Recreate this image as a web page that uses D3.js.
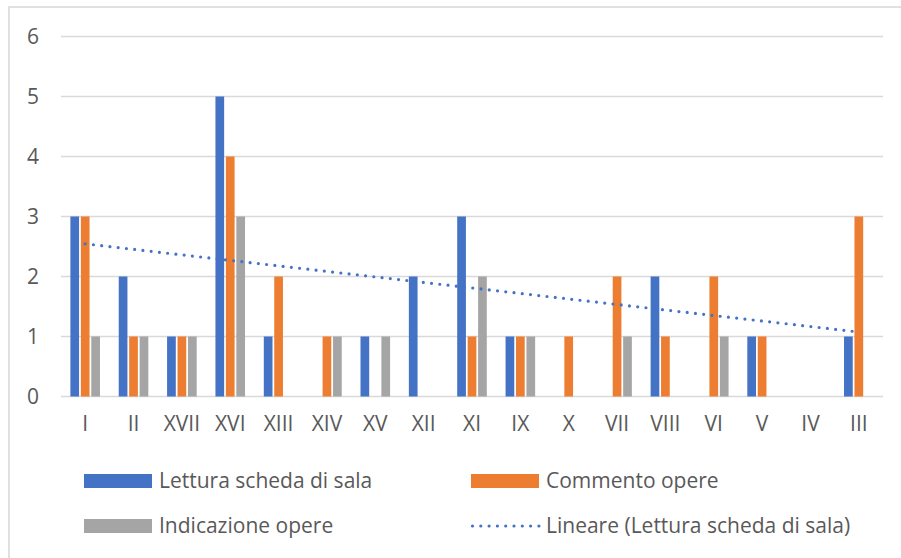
<!DOCTYPE html>
<html>
<head>
<meta charset="utf-8">
<script src="https://cdn.jsdelivr.net/npm/d3@7"></script>
<style>
  html, body { margin: 0; padding: 0; background: #fff; }
  svg text { font-family: "Open Sans", "Noto Sans", sans-serif; fill: #595959; }
</style>
</head>
<body>
<div id="chart"></div>
<script>
const categories = ["I", "II", "XVII", "XVI", "XIII", "XIV", "XV", "XII", "XI", "IX", "X", "VII", "VIII", "VI", "V", "IV", "III"];
// null = empty cell (not plotted, skipped by the trendline)
const lettura = [3, 2, 1, 5, 1, null, 1, 2, 3, 1, null, null, 2, null, 1, null, 1];
const commento = [3, 1, 1, 4, 2, 1, null, null, 1, 1, 1, 2, 1, 2, 1, null, 3];
const indicazione = [1, 1, 1, 3, null, 1, 1, null, 2, 1, null, 1, null, 1, null, null, null];
const seriesNames = ["Lettura scheda di sala", "Commento opere", "Indicazione opere"];
const trendName = "Lineare (Lettura scheda di sala)";
const yTicks = [0, 1, 2, 3, 4, 5, 6];

const colors = ["#4472C4", "#ED7D31", "#A5A5A5"];
const seriesValues = [lettura, commento, indicazione];

const width = 901, height = 558;
const svg = d3.select("#chart").append("svg")
    .attr("width", width)
    .attr("height", height);

// chart area border (top / left visible)
svg.append("path")
    .attr("d", "M9,560 V7 H905")
    .attr("fill", "none")
    .attr("stroke", "#e0e0e0")
    .attr("stroke-width", 2);

const x0 = d3.scaleBand()
    .domain(categories)
    .range([61, 883])
    .paddingInner(0.388)
    .paddingOuter(0.194);

const x1 = d3.scaleBand()
    .domain(seriesNames)
    .range([0, x0.bandwidth()])
    .paddingInner(1 / 6);

const y = d3.scaleLinear()
    .domain([0, 6])
    .range([396.5, 36.5]);

// gridlines
svg.append("g")
    .selectAll("line")
    .data(yTicks)
    .join("line")
    .attr("x1", 61)
    .attr("x2", 883)
    .attr("y1", d => y(d))
    .attr("y2", d => y(d))
    .attr("stroke", "#d9d9d9")
    .attr("stroke-width", 1.5);

// y axis labels
const yAxis = svg.append("g")
    .attr("transform", "translate(39,0)")
    .call(d3.axisLeft(y).tickValues(yTicks).tickFormat(d3.format("d")).tickSize(0).tickPadding(0));
yAxis.select(".domain").remove();
yAxis.selectAll("text")
    .attr("font-size", 21)
    .attr("font-family", "'Open Sans', sans-serif")
    .attr("fill", "#595959");

// x axis labels
const xAxis = svg.append("g")
    .attr("transform", "translate(0,416)")
    .call(d3.axisBottom(x0).tickSize(0).tickPadding(0));
xAxis.select(".domain").remove();
xAxis.selectAll("text")
    .attr("font-size", 21)
    .attr("font-family", "'Open Sans', sans-serif")
    .attr("fill", "#595959");

// bars
const rows = [];
categories.forEach((c, i) => {
    seriesNames.forEach((s, j) => {
        const v = seriesValues[j][i];
        if (v != null) rows.push({ cat: c, series: s, value: v, color: colors[j] });
    });
});

svg.append("g")
    .selectAll("rect")
    .data(rows)
    .join("rect")
    .attr("x", d => x0(d.cat) + x1(d.series))
    .attr("y", d => y(d.value))
    .attr("width", x1.bandwidth())
    .attr("height", d => y(0) - y(d.value))
    .attr("fill", d => d.color);

// linear trendline of lettura (empty cells skipped, x = 1..n)
const pts = lettura.map((v, i) => ({ x: i + 1, y: v })).filter(d => d.y != null);
const mx = d3.mean(pts, d => d.x), my = d3.mean(pts, d => d.y);
const slope = d3.sum(pts, d => (d.x - mx) * (d.y - my)) / d3.sum(pts, d => (d.x - mx) ** 2);
const intercept = my - slope * mx;
const trend = [1, categories.length].map(k => ({ cat: categories[k - 1], value: intercept + slope * k }));

const centerX = c => x0(c) + x0.bandwidth() / 2;
svg.append("path")
    .datum(trend)
    .attr("fill", "none")
    .attr("stroke", "#4472C4")
    .attr("stroke-width", 3.2)
    .attr("stroke-linecap", "round")
    .attr("stroke-dasharray", "0,8.3")
    .attr("d", d3.line().x(d => centerX(d.cat)).y(d => y(d.value)));

// legend
const legend = [
    { name: seriesNames[0], type: "rect", color: colors[0], x: 84, y: 481 },
    { name: seriesNames[1], type: "rect", color: colors[1], x: 471, y: 481 },
    { name: seriesNames[2], type: "rect", color: colors[2], x: 84, y: 526 },
    { name: trendName, type: "line", color: colors[0], x: 471, y: 526 }
];

const lg = svg.append("g").selectAll("g")
    .data(legend)
    .join("g")
    .attr("transform", d => `translate(${d.x},${d.y})`);

lg.filter(d => d.type === "rect").append("rect")
    .attr("x", 0)
    .attr("y", -7)
    .attr("width", 68)
    .attr("height", 14)
    .attr("fill", d => d.color);

lg.filter(d => d.type === "line").append("line")
    .attr("x1", 1.5)
    .attr("x2", 68)
    .attr("y1", 0)
    .attr("y2", 0)
    .attr("stroke", d => d.color)
    .attr("stroke-width", 3.2)
    .attr("stroke-linecap", "round")
    .attr("stroke-dasharray", "0,8.3");

lg.append("text")
    .attr("x", 75)
    .attr("y", 0)
    .attr("dy", "0.35em")
    .attr("font-size", 21)
    .text(d => d.name);
</script>
</body>
</html>
